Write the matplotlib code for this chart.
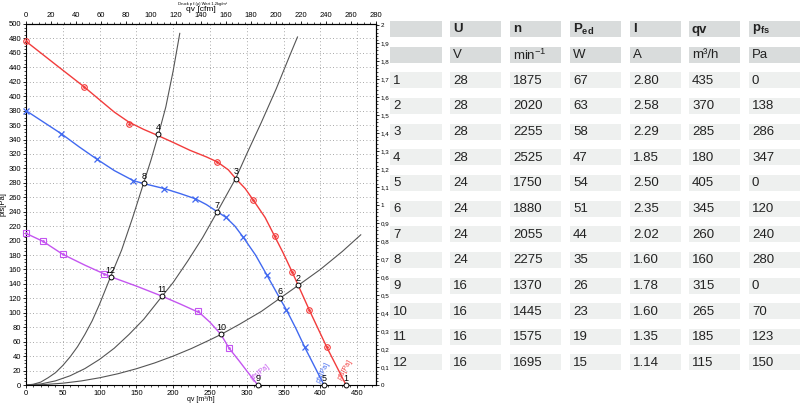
import matplotlib
matplotlib.use("Agg")
import matplotlib.pyplot as plt
from matplotlib.patches import Rectangle
from matplotlib.ticker import MultipleLocator, FuncFormatter

plt.rcParams['font.family'] = ['Liberation Sans', 'DejaVu Sans']
plt.rcParams['mathtext.fontset'] = 'custom'
plt.rcParams['mathtext.rm'] = 'Liberation Sans'
plt.rcParams['mathtext.bf'] = 'Liberation Sans:bold'
plt.rcParams['mathtext.it'] = 'Liberation Sans'

# --- kennlinien (gelesen aus dem bild) ---
red_q = [0, 40, 79, 100, 120, 140, 160, 176, 200, 223, 245, 260, 275, 285, 298, 309, 325, 338, 350, 362, 370, 385, 397, 409, 422, 435]
red_p = [476, 444, 413, 395, 378, 364, 354, 347, 336, 325, 316, 309, 298, 286, 272, 256, 232, 206, 182, 156, 138, 104, 78, 52, 26, 0]
red_mq = [0, 79, 140, 260, 309, 338, 362, 385, 409]
red_mp = [476, 413, 361, 309, 256, 206, 156, 104, 52]

blue_q = [0, 48, 72, 96, 120, 146, 160, 188, 210, 230, 245, 260, 272, 284, 295, 312, 327, 345, 354, 367, 379, 392, 405]
blue_p = [380, 348, 330, 313, 297, 283, 279, 272, 265, 258, 250, 240, 232, 220, 205, 180, 153, 120, 104, 78, 52, 26, 0]
blue_mq = [0, 48, 96, 146, 188, 230, 272, 295, 327, 354, 379]
blue_mp = [380, 348, 313, 282, 272, 258, 232, 205, 153, 104, 52]

mag_q = [0, 23, 50, 80, 106, 115, 150, 185, 210, 223, 236, 250, 265, 276, 290, 302, 315]
mag_p = [210, 199, 181, 166, 154, 150, 137, 123, 112, 106, 100, 87, 70, 51, 33, 17, 0]
mag_mq = [0, 23, 50, 106, 234, 276]
mag_mp = [210, 199, 181, 154, 103, 51]

# anlagenkennlinien
sysA_q = [0, 10, 20, 30, 40, 50, 60, 70, 80, 90, 100, 115, 130, 145, 160, 170, 180, 190, 200, 209]
sysA_p = [0, 1, 4, 10, 17, 27, 39, 53, 70, 89, 112, 150, 187, 232, 280, 312, 347, 385, 435, 487]
sysB_q = [0, 20, 40, 60, 80, 100, 120, 140, 160, 185, 200, 220, 240, 260, 285, 300, 320, 340, 360, 369]
sysB_p = [0, 1.4, 5.7, 12.8, 22.7, 35.5, 51, 70, 91, 123, 142, 172, 204, 240, 286, 320, 364, 410, 460, 482]
sysC_q = [0, 25, 50, 75, 100, 125, 150, 175, 200, 225, 250, 265, 290, 320, 345, 370, 400, 430, 455]
sysC_p = [0, 0.6, 2.5, 5.6, 10, 15.6, 22.5, 30.6, 40, 50.6, 62.5, 70, 84, 102, 120, 138, 160, 185, 208]

# --- tabelle ---
row_ids = [str(i) for i in range(1, 13)]
U_vals = ['28', '28', '28', '28', '24', '24', '24', '24', '16', '16', '16', '16']
n_vals = ['1875', '2020', '2255', '2525', '1750', '1880', '2055', '2275', '1370', '1445', '1575', '1695']
Ped_vals = ['67', '63', '58', '47', '54', '51', '44', '35', '26', '23', '19', '15']
I_vals = ['2.80', '2.58', '2.29', '1.85', '2.50', '2.35', '2.02', '1.60', '1.78', '1.60', '1.35', '1.14']
qv_vals = [435, 370, 285, 180, 405, 345, 260, 160, 315, 265, 185, 115]
pfs_vals = [0, 138, 286, 347, 0, 120, 240, 280, 0, 70, 123, 150]
headers = ['', 'U', 'n', r'$\mathbf{P_{ed}}$', 'I', 'qv', r'$\mathbf{p_{fs}}$']
units = ['', 'V', 'min$^{-1}$', 'W', 'A', 'm³/h', 'Pa']

RED = '#f23c3c'
BLUE = '#4169f0'
MAG = '#c455f0'
GRAY = '#555555'

CFM = 1.699

fig = plt.figure(figsize=(8, 4.04), dpi=100)
ax = fig.add_axes([26 / 800, 19 / 404, 350 / 800, 361 / 404])

for q, p in [(sysA_q, sysA_p), (sysB_q, sysB_p), (sysC_q, sysC_p)]:
    ax.plot(q, p, color=GRAY, lw=0.8, zorder=2)

ax.plot(red_q, red_p, color=RED, lw=1.0, zorder=3)
ax.plot(red_mq, red_mp, ls='none', marker='o', ms=4, mfc='none', mec=RED, mew=0.8, zorder=3, clip_on=False)
ax.plot(red_mq, red_mp, ls='none', marker='.', ms=2, color=RED, zorder=3, clip_on=False)
ax.plot(blue_q, blue_p, color=BLUE, lw=1.0, zorder=3)
ax.plot(blue_mq, blue_mp, ls='none', marker='x', ms=4, mec=BLUE, mew=0.9, zorder=3, clip_on=False)
ax.plot(mag_q, mag_p, color=MAG, lw=1.0, zorder=3)
ax.plot(mag_mq, mag_mp, ls='none', marker='s', ms=4, mfc='none', mec=MAG, mew=0.8, zorder=3, clip_on=False)
ax.plot(mag_mq, mag_mp, ls='none', marker='.', ms=2, color=MAG, zorder=3, clip_on=False)

# betriebspunkte
ax.plot(qv_vals, pfs_vals, ls='none', marker='o', ms=3.5, mfc='white', mec='black', mew=0.7, zorder=4, clip_on=False)
for i, (q, p) in enumerate(zip(qv_vals, pfs_vals)):
    ax.annotate(row_ids[i], (q, p), xytext=(0, 1.5), textcoords='offset points',
                ha='center', va='bottom', fontsize=6.5, zorder=5)

# kurvenbeschriftung
ax.text(318, 18, 'pfs[Pa]', color=MAG, fontsize=5, rotation=38, ha='center', va='center')
ax.text(404, 18, 'pfs[Pa]', color=BLUE, fontsize=5, rotation=65, ha='center', va='center')
ax.text(434, 21, 'pfs[Pa]', color=RED, fontsize=5, rotation=60, ha='center', va='center')

ax.set_xlim(0, 280 * CFM)
ax.set_ylim(0, 500)
ax.xaxis.set_major_locator(MultipleLocator(50))
ax.xaxis.set_minor_locator(MultipleLocator(10))
ax.yaxis.set_major_locator(MultipleLocator(20))
ax.yaxis.set_minor_locator(MultipleLocator(5))
ax.tick_params(which='major', labelsize=5.5, length=2.5, width=0.6, pad=1)
ax.tick_params(which='minor', length=1.5, width=0.5)
ax.grid(which='major', ls=(0, (1, 3)), color='#8a8a8a', lw=0.6)
for s in ax.spines.values():
    s.set_linewidth(0.8)
ax.set_xlabel('qv [m³/h]', fontsize=5)
ax.xaxis.set_label_coords(0.5, -0.03)
ax.set_ylabel('pfs[Pa]', fontsize=5.5)
ax.yaxis.set_label_coords(-0.055, 0.5)

top = ax.secondary_xaxis('top', functions=(lambda q: q / CFM, lambda c: c * CFM))
top.xaxis.set_major_locator(MultipleLocator(20))
top.xaxis.set_minor_locator(MultipleLocator(5))
top.tick_params(which='major', labelsize=5.5, length=2.5, width=0.6, pad=1)
top.tick_params(which='minor', length=1.5, width=0.5)
top.set_xlabel('qv [cfm]', fontsize=6, labelpad=1)

right = ax.secondary_yaxis('right', functions=(lambda p: p / 249.09, lambda w: w * 249.09))
right.yaxis.set_major_locator(MultipleLocator(0.1))
right.yaxis.set_minor_locator(MultipleLocator(0.02))
right.yaxis.set_major_formatter(FuncFormatter(lambda v, pos: ('%.1f' % v).replace('.0', '').replace('.', ',')))
right.tick_params(which='major', labelsize=4.5, length=2.5, width=0.6, pad=1)
right.tick_params(which='minor', length=1.5, width=0.5)

fig.text(203 / 800, 1 - 4 / 404, 'Druck p f.(ρ) Wert 1,2kg/m³', fontsize=3, ha='center', va='center')

# --- tabelle rechts ---
tab = fig.add_axes([390 / 800, 0, 410 / 800, 1])
tab.set_xlim(390, 800)
tab.set_ylim(404, 0)
tab.axis('off')

col_x = [390, 450, 510, 570, 630, 689, 749]
col_w = [52, 51, 51, 51, 51, 51, 51]
rows = [headers, units]
for i in range(12):
    rows.append([row_ids[i], U_vals[i], n_vals[i], Ped_vals[i], I_vals[i], str(qv_vals[i]), str(pfs_vals[i])])

for r, row in enumerate(rows):
    y0 = 21 + r * 25.65
    fc = '#d9dcdc' if r < 2 else '#eef0ef'
    for c, txt in enumerate(row):
        tab.add_patch(Rectangle((col_x[c], y0), col_w[c], 16, fc=fc, ec='none'))
        tab.text(col_x[c] + 3, y0 + 8.5, txt, fontsize=9.5, va='center', ha='left',
                 fontweight='bold' if r == 0 else 'normal', color='#222222')

fig.savefig('out.png', dpi=100)
